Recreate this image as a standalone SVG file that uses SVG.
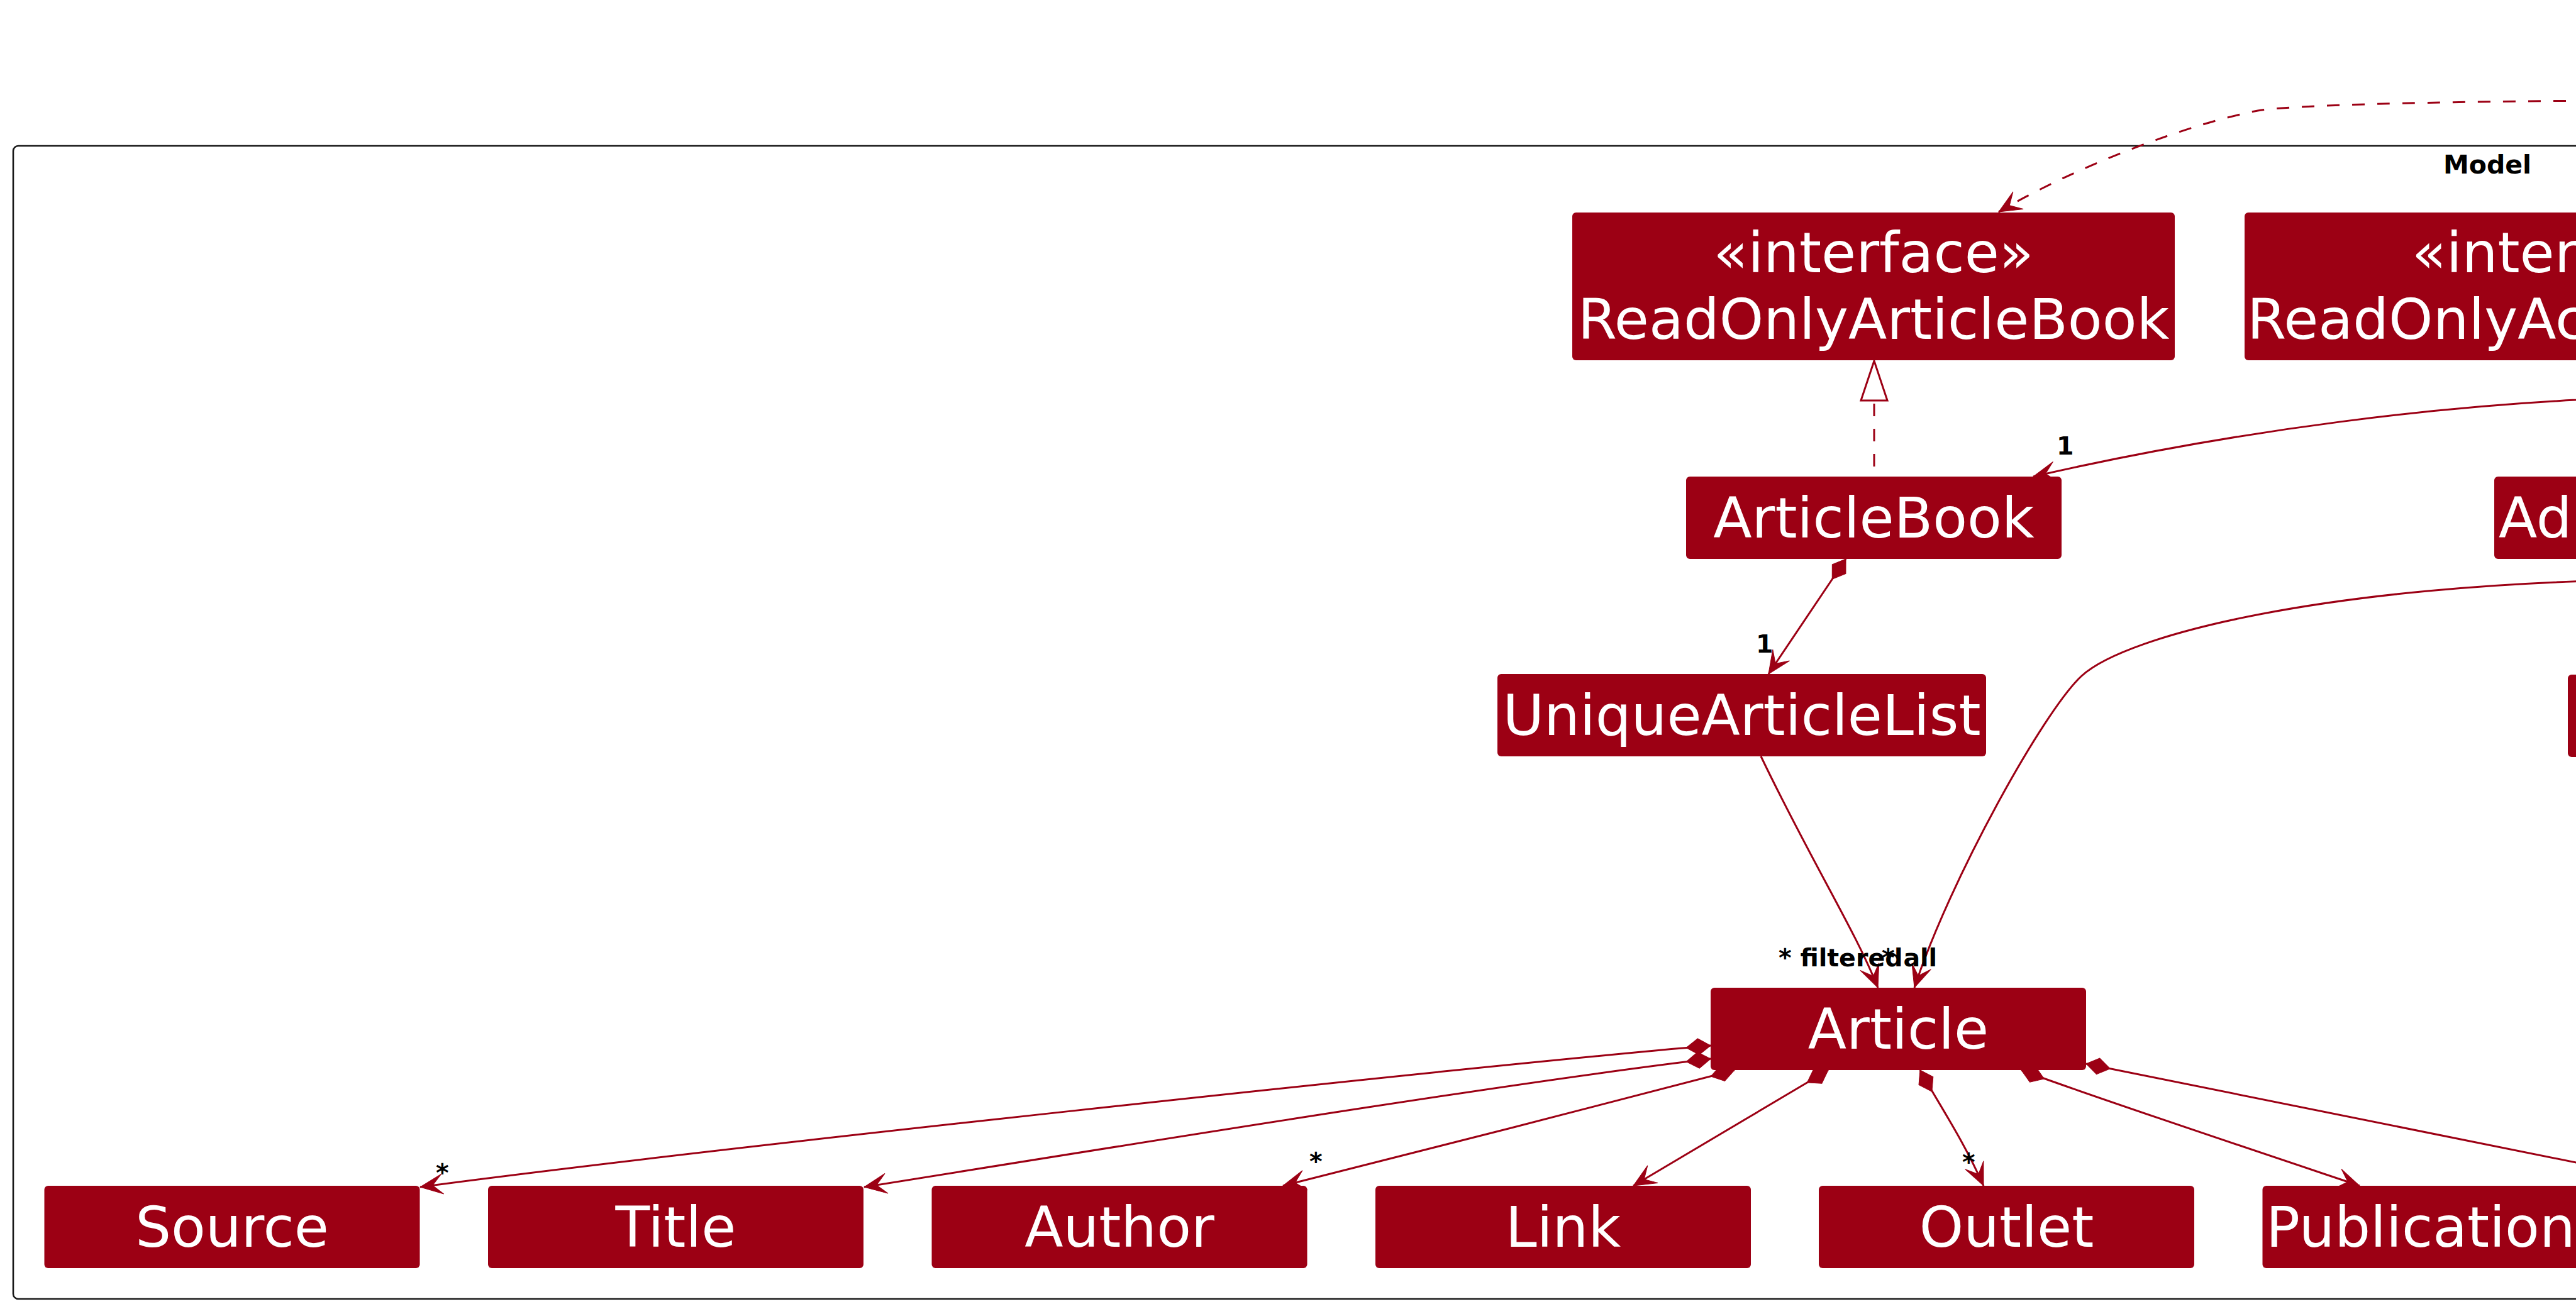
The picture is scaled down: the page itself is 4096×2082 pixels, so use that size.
<svg xmlns="http://www.w3.org/2000/svg" width="4096" height="2082" viewBox="0 0 4096 2082">
<style>
.box{fill:#9C0014;}
.t{font-family:"DejaVu Sans",sans-serif;font-size:89.6px;fill:#ffffff;text-anchor:middle;}
.ts{font-family:"DejaVu Sans",sans-serif;font-size:89.6px;fill:#ffffff;}
.lbl{font-family:"DejaVu Sans",sans-serif;font-size:39.5px;font-weight:bold;fill:#000000;}
.c{fill:none;stroke:#9C0014;stroke-width:3;}
.d{stroke-dasharray:20 20;}
</style>
<defs>
<marker id="arr" markerUnits="userSpaceOnUse" viewBox="-40 -20 44 40" markerWidth="44" markerHeight="40" refX="0" refY="0" orient="auto" overflow="visible">
<path d="M0,0 L-36,-16 L-20,0 L-36,16 Z" fill="#9C0014" stroke="#9C0014" stroke-width="1"/>
</marker>
<marker id="dia" markerUnits="userSpaceOnUse" viewBox="-2 -15 44 30" markerWidth="44" markerHeight="30" refX="0" refY="0" orient="auto" overflow="visible">
<path d="M0,0 L19.5,-13 L39,0 L19.5,13 Z" fill="#9C0014" stroke="#9C0014" stroke-width="1"/>
</marker>
<marker id="tri" markerUnits="userSpaceOnUse" viewBox="-2 -24 68 48" markerWidth="68" markerHeight="48" refX="0" refY="0" orient="auto" overflow="visible">
<path d="M63,0 L0,-21 L0,21 Z" fill="#ffffff" stroke="#9C0014" stroke-width="3"/>
</marker>
</defs>
<rect width="4096" height="2082" fill="#ffffff"/>
<g id="Model">
<rect x="21" y="232" width="8000" height="1834" rx="8" fill="none" stroke="#181818" stroke-width="2.6"/>
<text class="lbl" x="3885" y="276" style="font-size:41px">Model</text>
</g>
<g id="connectors">
<path class="c d" d="M4200,160 C3950,160 3645,166 3590,176 C3480,197 3300,265 3178,337" marker-end="url(#arr)"/>
<path class="c" d="M4200,632 C3900,640 3550,685 3233,758" marker-end="url(#arr)"/>
<path class="c d" style="stroke-dashoffset:24" d="M2980,758 L2980,637" marker-end="url(#tri)"/>
<path class="c" d="M2935,889 L2812,1072" marker-start="url(#dia)" marker-end="url(#arr)"/>
<path class="c" d="M2800,1203 C2880,1370 2950,1480 2986,1571" marker-end="url(#arr)"/>
<path class="c" d="M4200,922 C3700,930 3382,1009 3310,1075 C3250,1130 3100,1400 3044,1571" marker-end="url(#arr)"/>
<path class="c" d="M2720,1663 C2300,1700 1100,1830 668,1888" marker-start="url(#dia)" marker-end="url(#arr)"/>
<path class="c" d="M2720,1684 C2400,1722 1800,1820 1374,1888" marker-start="url(#dia)" marker-end="url(#arr)"/>
<path class="c" d="M2758,1702 C2500,1770 2300,1820 2040,1886" marker-start="url(#dia)" marker-end="url(#arr)"/>
<path class="c" d="M2907,1702 L2597,1886" marker-start="url(#dia)" marker-end="url(#arr)"/>
<path class="c" d="M3053,1702 C3085,1760 3120,1810 3154,1886" marker-start="url(#dia)" marker-end="url(#arr)"/>
<path class="c" d="M3214,1702 C3300,1735 3600,1835 3752,1886" marker-start="url(#dia)" marker-end="url(#arr)"/>
<path class="c" d="M3317,1692 L4200,1870" marker-start="url(#dia)"/>
<text class="lbl" x="3270" y="723">1</text>
<text class="lbl" x="2792" y="1038">1</text>
<text class="lbl" x="2828" y="1537">* filtered</text>
<text class="lbl" x="2992" y="1537">* all</text>
<text class="lbl" x="693" y="1879">*</text>
<text class="lbl" x="2082" y="1861">*</text>
<text class="lbl" x="3120" y="1862">*</text>
</g>
<g id="ReadOnlyArticleBook">
<rect class="box" x="2500" y="338" width="958" height="235" rx="6"/>
<text class="t" x="2979" y="433">«interface»</text>
<text class="t" x="2979" y="539">ReadOnlyArticleBook</text>
</g>
<g id="ReadOnlyAc">
<rect class="box" x="3569" y="338" width="1200" height="235" rx="6"/>
<text class="ts" x="3835" y="433">«inter</text>
<text class="ts" x="3573" y="539">ReadOnlyAc</text>
</g>
<g id="ArticleBook">
<rect class="box" x="2681" y="758" width="597" height="131" rx="6"/>
<text class="t" x="2979.5" y="855">ArticleBook</text>
</g>
<g id="Ad">
<rect class="box" x="3966" y="758" width="600" height="131" rx="6"/>
<text class="ts" x="3973" y="855">Ad</text>
</g>
<g id="UniqueArticleList">
<rect class="box" x="2381" y="1072" width="777" height="131" rx="6"/>
<text class="t" x="2769.5" y="1169">UniqueArticleList</text>
</g>
<g id="RightBox">
<rect class="box" x="4083" y="1073" width="500" height="131" rx="6"/>
</g>
<g id="Article">
<rect class="box" x="2720" y="1571" width="597" height="131" rx="6"/>
<text class="t" x="3018.5" y="1668">Article</text>
</g>
<g id="Source">
<rect class="box" x="70.5" y="1886" width="597" height="131" rx="6"/>
<text class="t" x="369" y="1983">Source</text>
</g>
<g id="Title">
<rect class="box" x="776" y="1886" width="597" height="131" rx="6"/>
<text class="t" x="1074.5" y="1983">Title</text>
</g>
<g id="Author">
<rect class="box" x="1481.5" y="1886" width="597" height="131" rx="6"/>
<text class="t" x="1780" y="1983">Author</text>
</g>
<g id="Link">
<rect class="box" x="2187" y="1886" width="597" height="131" rx="6"/>
<text class="t" x="2485.5" y="1983">Link</text>
</g>
<g id="Outlet">
<rect class="box" x="2892" y="1886" width="597" height="131" rx="6"/>
<text class="t" x="3190.5" y="1983">Outlet</text>
</g>
<g id="Publication">
<rect class="box" x="3597.5" y="1886" width="900" height="131" rx="6"/>
<text class="ts" x="3603" y="1983">Publication</text>
</g>
</svg>
